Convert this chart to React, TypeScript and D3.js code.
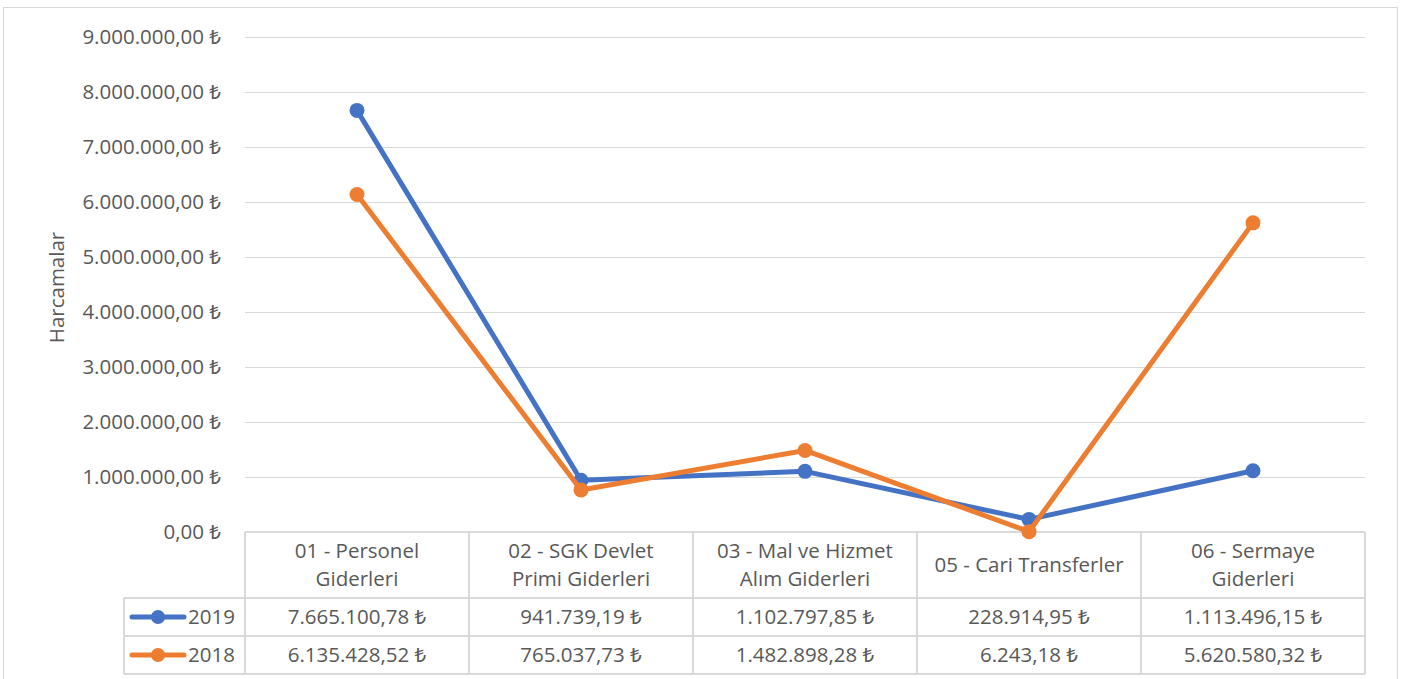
import React, { useRef, useEffect } from "react";
import * as d3 from "d3";

const categories = [
  ["01 - Personel", "Giderleri"],
  ["02 - SGK Devlet", "Primi Giderleri"],
  ["03 - Mal ve Hizmet", "Alım Giderleri"],
  ["05 - Cari Transferler"],
  ["06 - Sermaye", "Giderleri"],
];
const values2019 = [7665100.78, 941739.19, 1102797.85, 228914.95, 1113496.15];
const values2018 = [6135428.52, 765037.73, 1482898.28, 6243.18, 5620580.32];
const yTicks = [0, 1e6, 2e6, 3e6, 4e6, 5e6, 6e6, 7e6, 8e6, 9e6];

const series = [
  { name: "2019", values: values2019, color: "#4472C4" },
  { name: "2018", values: values2018, color: "#ED7D31" },
];

const W = 1402;
const H = 679;
const gridColor = "#d9d9d9";
const textColor = "#595959";
const font = "'Open Sans', 'Noto Sans', sans-serif";
const fs = 20.5;

const locale = d3.formatLocale({
  decimal: ",",
  thousands: ".",
  grouping: [3],
  currency: ["", " ₺"],
});
const fmt = locale.format("$,.2f");

export default function App() {
  const svgRef = useRef<SVGSVGElement>(null);

  useEffect(() => {
    if (!svgRef.current) return;
    const svg = d3.select(svgRef.current);
    svg.selectAll("*").remove();

    const left = 245;
    const right = 1365;
    const top = 37;
    const bottom = 532;
    const headerBottom = 598;
    const rowH = 38;
    const legendLeft = 124;

    // chart border
    svg.append("rect")
      .attr("x", 3.5).attr("y", 7.5)
      .attr("width", 1394).attr("height", 680)
      .attr("fill", "#fff").attr("stroke", gridColor);

    const x = d3.scaleBand<number>()
      .domain(categories.map((_, i) => i))
      .range([left, right]);
    const y = d3.scaleLinear().domain([0, 9e6]).range([bottom, top]);

    // gridlines + tick labels
    yTicks.forEach((t) => {
      if (t > 0) {
        svg.append("line")
          .attr("x1", left).attr("x2", right)
          .attr("y1", Math.round(y(t)) + 0.5).attr("y2", Math.round(y(t)) + 0.5)
          .attr("stroke", gridColor).attr("stroke-width", 1.2);
      }
      svg.append("text")
        .attr("x", 221).attr("y", y(t))
        .attr("dy", "0.35em")
        .attr("text-anchor", "end")
        .attr("font-family", font).attr("font-size", fs)
        .attr("fill", textColor)
        .text(fmt(t));
    });

    // axis title
    svg.append("text")
      .attr("transform", `translate(57, ${(top + bottom) / 2 + 3}) rotate(-90)`)
      .attr("text-anchor", "middle")
      .attr("dy", "0.35em")
      .attr("font-family", font).attr("font-size", fs)
      .attr("fill", textColor)
      .text("Harcamalar");

    // data table grid
    const tableBottom = headerBottom + rowH * 2;
    const tg = svg.append("g").attr("stroke", gridColor).attr("stroke-width", 2);
    tg.append("line").attr("x1", left).attr("x2", right).attr("y1", bottom).attr("y2", bottom);
    [headerBottom, headerBottom + rowH, tableBottom].forEach((yy) => {
      tg.append("line").attr("x1", legendLeft).attr("x2", right).attr("y1", yy).attr("y2", yy);
    });
    tg.append("line").attr("x1", legendLeft).attr("x2", legendLeft)
      .attr("y1", headerBottom).attr("y2", tableBottom);
    categories.forEach((_, i) => {
      const xx = x(i)!;
      tg.append("line").attr("x1", xx).attr("x2", xx).attr("y1", bottom).attr("y2", tableBottom);
    });
    tg.append("line").attr("x1", right).attr("x2", right).attr("y1", bottom).attr("y2", tableBottom);

    // header labels
    categories.forEach((lines, i) => {
      const cx = x(i)! + x.bandwidth() / 2;
      const mid = (bottom + headerBottom) / 2;
      lines.forEach((ln, j) => {
        svg.append("text")
          .attr("x", cx)
          .attr("y", mid + (j - (lines.length - 1) / 2) * 28)
          .attr("dy", "0.35em")
          .attr("text-anchor", "middle")
          .attr("font-family", font).attr("font-size", fs)
          .attr("fill", textColor)
          .text(ln);
      });
    });

    // value rows with legend keys
    series.forEach((s, r) => {
      const cy = headerBottom + rowH * r + rowH / 2;
      svg.append("line")
        .attr("x1", 132).attr("x2", 184).attr("y1", cy).attr("y2", cy)
        .attr("stroke", s.color).attr("stroke-width", 5).attr("stroke-linecap", "round");
      svg.append("circle").attr("cx", 158).attr("cy", cy).attr("r", 7).attr("fill", s.color);
      svg.append("text")
        .attr("x", 188).attr("y", cy).attr("dy", "0.35em")
        .attr("font-family", font).attr("font-size", fs)
        .attr("fill", textColor).text(s.name);
      s.values.forEach((v, i) => {
        svg.append("text")
          .attr("x", x(i)! + x.bandwidth() / 2).attr("y", cy).attr("dy", "0.35em")
          .attr("text-anchor", "middle")
          .attr("font-family", font).attr("font-size", fs)
          .attr("fill", textColor).text(fmt(v));
      });
    });

    // lines
    const line = d3.line<number>()
      .x((_, i) => x(i)! + x.bandwidth() / 2)
      .y((d) => y(d));
    series.forEach((s) => {
      svg.append("path")
        .datum(s.values)
        .attr("d", line)
        .attr("fill", "none")
        .attr("stroke", s.color)
        .attr("stroke-width", 5)
        .attr("stroke-linejoin", "round")
        .attr("stroke-linecap", "round");
      svg.selectAll(null)
        .data(s.values)
        .enter()
        .append("circle")
        .attr("cx", (_, i) => x(i)! + x.bandwidth() / 2)
        .attr("cy", (d) => y(d))
        .attr("r", 7.5)
        .attr("fill", s.color);
    });
  }, []);

  return (
    <svg
      ref={svgRef}
      width={W}
      height={H}
      style={{ position: "absolute", left: 0, top: 0, display: "block", background: "#fff" }}
    />
  );
}
